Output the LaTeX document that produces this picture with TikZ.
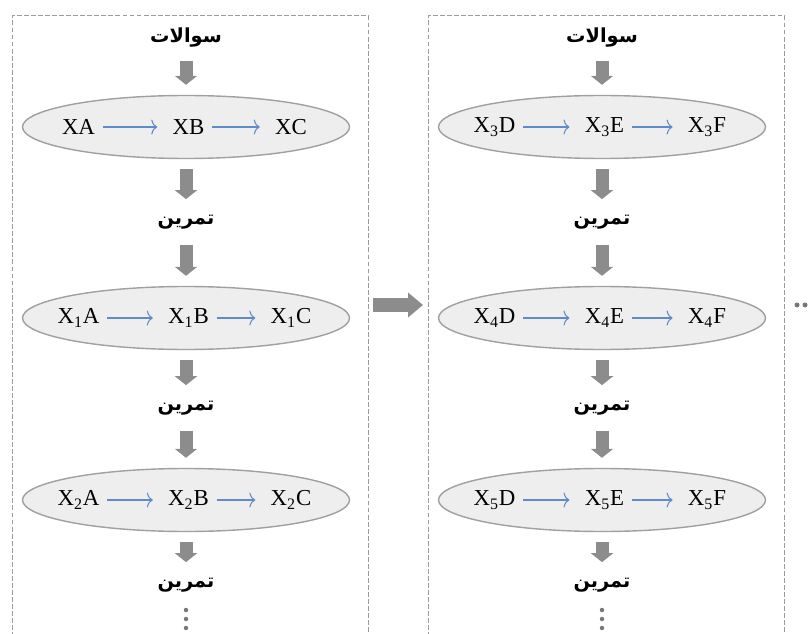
\documentclass[tikz,border=0pt]{standalone}
\usepackage{fontspec}
\setmainfont{Liberation Serif}
\newfontfamily\arabicfont[Script=Arabic]{DejaVu Sans}
\TeXXeTstate=1
\usetikzlibrary{shapes.geometric,arrows.meta}

\definecolor{panelgray}{RGB}{155,155,155}
\definecolor{blockgray}{RGB}{140,140,140}
\definecolor{ellfill}{RGB}{238,238,238}
\definecolor{ellline}{RGB}{160,160,160}
\definecolor{linkblue}{RGB}{95,140,200}
\definecolor{dotgray}{RGB}{120,120,120}

\tikzset{
  panel/.style={draw=panelgray, dash pattern=on 2.8pt off 1.2pt, line width=0.8pt,
    minimum width=7.12cm, minimum height=13.5cm, anchor=north west},
  chainell/.style={ellipse, draw=ellline, fill=ellfill, line width=0.8pt,
    minimum width=6.54cm, minimum height=1.26cm},
  item/.style={inner sep=0pt, font=\fontsize{13}{15}\selectfont},
  fatext/.style={inner sep=0pt, minimum height=0.5cm,
    font=\fontsize{11}{13}\selectfont\arabicfont\bfseries},
  link/.style={draw=linkblue, line width=0.6pt, -{To[length=0.12cm, width=0.3cm]},
    shorten <=0.15cm, shorten >=0.3cm},
  flow/.style={draw=blockgray, line width=0.26cm, -{Triangle[length=0.18cm, width=0.44cm]},
    shorten <=0.2cm, shorten >=0.2cm},
}

% one ellipse with three states: name, centre, texts
\newcommand{\chain}[5]{%
  \node[chainell] (#1) at (#2) {};
  \node[item] (#1a) at ([xshift=-2.15cm]#1.center) {#3};
  \node[item] (#1b) at ([xshift=0.05cm]#1.center) {#4};
  \node[item] (#1c) at ([xshift=2.1cm]#1.center) {#5};
  \draw[link] (#1a) -- (#1b);
  \draw[link] (#1b) -- (#1c);
}

\begin{document}
\begin{tikzpicture}
		%%%%% START %%%%%
		\useasboundingbox (0,0) rectangle (16.2,-12.68);
		
		\node[panel] (leftpanel) at (0.24,-0.3) {};
		\node[panel] (rightpanel) at (8.56,-0.3) {};
		
		% left column
		\node[fatext] (q1) at (3.72,-0.76) {\beginR سوالات\endR};
		\chain{e1}{3.72,-2.54}{XA}{XB}{XC}
		\node[fatext] (t1) at (3.72,-4.44) {\beginR تمرین\endR};
		\chain{e2}{3.72,-6.36}{X\textsubscript{1}A}{X\textsubscript{1}B}{X\textsubscript{1}C}
		\node[fatext] (t2) at (3.72,-8.16) {\beginR تمرین\endR};
		\chain{e3}{3.72,-10.0}{X\textsubscript{2}A}{X\textsubscript{2}B}{X\textsubscript{2}C}
		\node[fatext] (t3) at (3.72,-11.7) {\beginR تمرین\endR};
		
		\draw[flow] (q1) -- (e1);
		\draw[flow] (e1) -- (t1);
		\draw[flow] (t1) -- (e2);
		\draw[flow] (e2) -- (t2);
		\draw[flow] (t2) -- (e3);
		\draw[flow] (e3) -- (t3);
		
		\fill[dotgray] (3.72,-12.2) circle (0.045);
		\fill[dotgray] (3.72,-12.38) circle (0.045);
		\fill[dotgray] (3.72,-12.56) circle (0.045);
		
		% right column
		\node[fatext] (q2) at (12.04,-0.76) {\beginR سوالات\endR};
		\chain{e4}{12.04,-2.54}{X\textsubscript{3}D}{X\textsubscript{3}E}{X\textsubscript{3}F}
		\node[fatext] (t4) at (12.04,-4.44) {\beginR تمرین\endR};
		\chain{e5}{12.04,-6.36}{X\textsubscript{4}D}{X\textsubscript{4}E}{X\textsubscript{4}F}
		\node[fatext] (t5) at (12.04,-8.16) {\beginR تمرین\endR};
		\chain{e6}{12.04,-10.0}{X\textsubscript{5}D}{X\textsubscript{5}E}{X\textsubscript{5}F}
		\node[fatext] (t6) at (12.04,-11.7) {\beginR تمرین\endR};
		
		\draw[flow] (q2) -- (e4);
		\draw[flow] (e4) -- (t4);
		\draw[flow] (t4) -- (e5);
		\draw[flow] (e5) -- (t5);
		\draw[flow] (t5) -- (e6);
		\draw[flow] (e6) -- (t6);
		
		\fill[dotgray] (12.04,-12.2) circle (0.045);
		\fill[dotgray] (12.04,-12.38) circle (0.045);
		\fill[dotgray] (12.04,-12.56) circle (0.045);
		
		% between the panels
		\coordinate (mid) at (0,-6.1);
		\draw[flow, line width=0.28cm, -{Triangle[length=0.3cm, width=0.48cm]},
			shorten <=0.08cm, shorten >=0.1cm] (leftpanel.east |- mid) -- (rightpanel.west |- mid);
		
		\fill[dotgray] (15.94,-6.1) circle (0.05);
		\fill[dotgray] (16.1,-6.1) circle (0.05);
		\fill[dotgray] (16.26,-6.1) circle (0.05);
		
		%%%%% END %%%%%
	\end{tikzpicture}
\end{document}
